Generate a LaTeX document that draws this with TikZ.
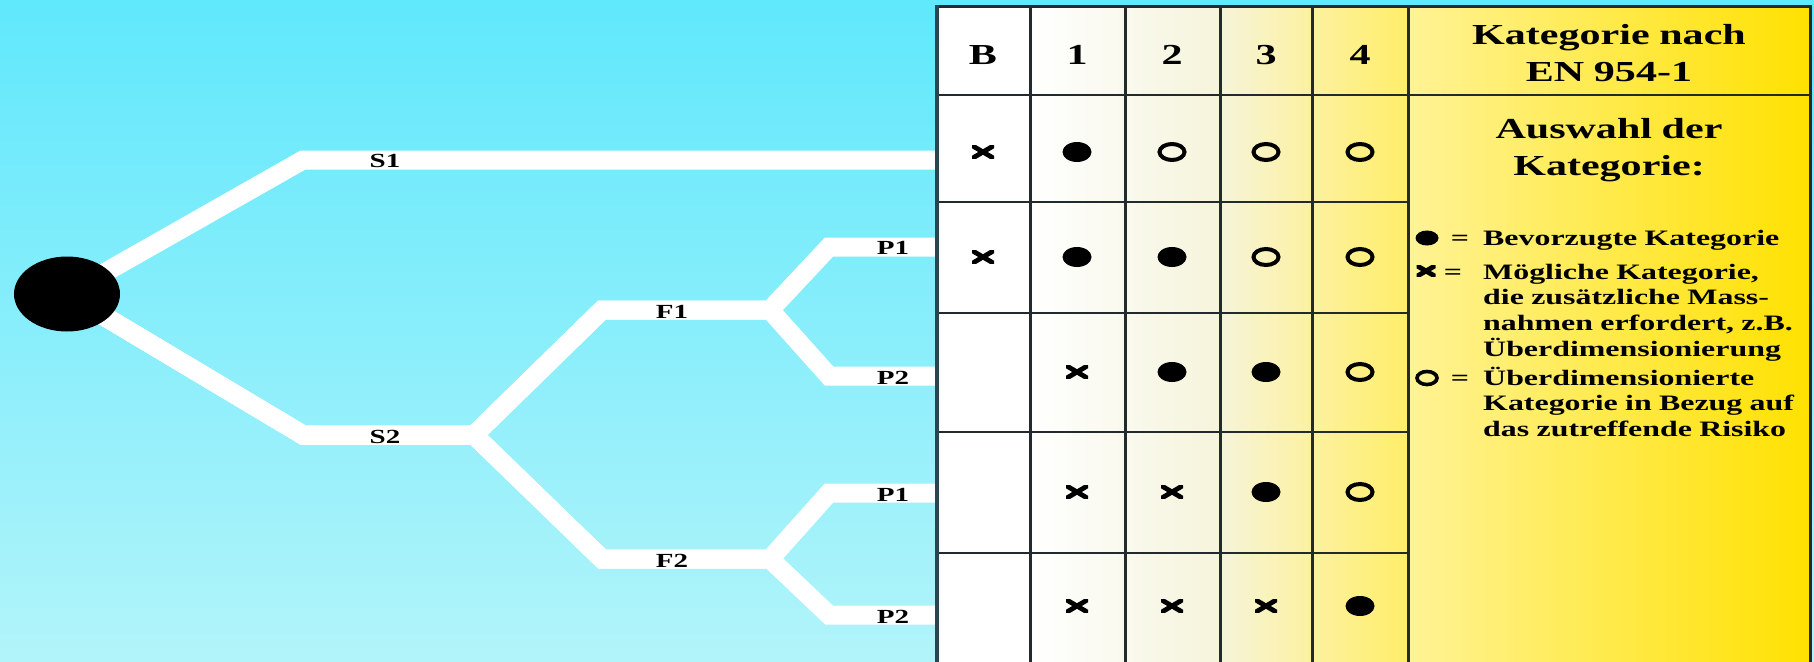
\documentclass[tikz,border=0pt]{standalone}
\usepackage{fontspec}
\setmainfont{Liberation Serif}[FakeStretch=1.45]
\usepackage{tikz}
\usetikzlibrary{shapes.geometric}
\definecolor{skytop}{RGB}{96,232,252}
\definecolor{skybottom}{RGB}{178,244,250}
\definecolor{gridline}{RGB}{35,42,45}
\definecolor{tableedge}{RGB}{40,70,80}
\definecolor{cellcream}{RGB}{249,249,238}
\definecolor{cellcream2}{RGB}{246,244,218}
\definecolor{cellyellow}{RGB}{252,241,160}
\definecolor{cellyellow2}{RGB}{255,238,105}
\definecolor{keyyellow}{RGB}{255,243,150}
\definecolor{signalyellow}{RGB}{255,225,0}

\begin{document}
\begin{tikzpicture}[x=1pt, y=-1pt,
  branch/.style={draw=white, line width=19pt, line join=miter},
  pathlabel/.style={font=\fontsize{20}{24}\selectfont\bfseries, inner sep=0pt},
  headtext/.style={font=\fontsize{29}{37}\selectfont\bfseries, inner sep=0pt, align=center, anchor=base},
  legendtext/.style={font=\fontsize{22}{25.7}\selectfont\bfseries, inner sep=0pt, align=left, anchor=base west, text width=330pt},
  keyeq/.style={font=\fontsize{22}{26}\selectfont\bfseries, inner sep=0pt, anchor=base},
  fullmark/.style={ellipse, fill=black, minimum width=29pt, minimum height=20pt, inner sep=0pt},
  ringmark/.style={ellipse, draw=black, line width=4pt, minimum width=25pt, minimum height=16pt, inner sep=0pt},
  crossmark/.style={minimum width=22pt, minimum height=13pt, inner sep=0pt,
    path picture={\draw[line width=4.8pt] (path picture bounding box.south west) -- (path picture bounding box.north east)
      (path picture bounding box.north west) -- (path picture bounding box.south east);}},
  gridrule/.style={draw=gridline, line width=2pt}]
\useasboundingbox (0,0) rectangle (1814,661);
\shade[top color=skytop, bottom color=skybottom] (0,0) rectangle (1814,661);

% risk graph
\coordinate (rootc) at (67,294);
\coordinate (s1bend) at (303,160); \coordinate (s1end) at (940,160);
\coordinate (s2bend) at (303,435); \coordinate (s2fork) at (474,435);
\coordinate (f1bend) at (602,310); \coordinate (f1fork) at (770,310);
\coordinate (f2bend) at (602,559); \coordinate (f2fork) at (770,559);
\coordinate (p11bend) at (829,247); \coordinate (p11end) at (940,247);
\coordinate (p12bend) at (829,376); \coordinate (p12end) at (940,376);
\coordinate (p21bend) at (829,493); \coordinate (p21end) at (940,493);
\coordinate (p22bend) at (829,615); \coordinate (p22end) at (940,615);
\draw[branch] (rootc) -- (s1bend) -- (s1end);
\draw[branch] (rootc) -- (s2bend) -- (s2fork) -- (f1bend) -- (f1fork) -- (p11bend) -- (p11end);
\draw[branch] (rootc) -- (s2bend) -- (s2fork) -- (f1bend) -- (f1fork) -- (p12bend) -- (p12end);
\draw[branch] (rootc) -- (s2bend) -- (s2fork) -- (f2bend) -- (f2fork) -- (p21bend) -- (p21end);
\draw[branch] (rootc) -- (s2bend) -- (s2fork) -- (f2bend) -- (f2fork) -- (p22bend) -- (p22end);
\node[ellipse, fill=black, minimum width=106pt, minimum height=75pt, inner sep=0pt] (root) at (rootc) {};
\node[pathlabel] (s1) at (385,161) {S1};
\node[pathlabel] (s2) at (385,437) {S2};
\node[pathlabel] (f1) at (672,312) {F1};
\node[pathlabel] (f2) at (672,561) {F2};
\node[pathlabel] (p11) at (893,248) {P1};
\node[pathlabel] (p12) at (893,378) {P2};
\node[pathlabel] (p21) at (893,495) {P1};
\node[pathlabel] (p22) at (893,617) {P2};

% category table
\fill[white] (937,7) rectangle (1030,670);
\shade[left color=white, right color=cellcream] (1030,7) rectangle (1125,670);
\shade[left color=cellcream, right color=cellcream2] (1125,7) rectangle (1220,670);
\shade[left color=cellcream2, right color=cellyellow] (1220,7) rectangle (1312,670);
\shade[left color=cellyellow, right color=cellyellow2] (1312,7) rectangle (1408,670);
\shade[left color=keyyellow, right color=signalyellow] (1408,7) rectangle (1810,670);
\draw[gridrule] (937,95) -- (1810,95);
\draw[gridrule] (937,202) -- (1408,202); \draw[gridrule] (937,313) -- (1408,313);
\draw[gridrule] (937,432) -- (1408,432); \draw[gridrule] (937,553) -- (1408,553);
\draw[gridrule, line width=3pt] (1030,7) -- (1030,670); \draw[gridrule, line width=3pt] (1125,7) -- (1125,670);
\draw[gridrule, line width=3pt] (1220,7) -- (1220,670); \draw[gridrule, line width=3pt] (1312,7) -- (1312,670);
\draw[gridrule, line width=3pt] (1408,7) -- (1408,670); \draw[gridrule, line width=3pt] (1810,7) -- (1810,670);
\draw[gridrule, line width=3pt] (935,7) -- (1812,7);
\draw[draw=tableedge, line width=4pt] (937,5) -- (937,670);

\node[headtext] (colB) at (983,65) {B};
\node[headtext] (col1) at (1077,65) {1};
\node[headtext] (col2) at (1172,65) {2};
\node[headtext] (col3) at (1266,65) {3};
\node[headtext] (col4) at (1360,65) {4};
\node[headtext, text width=390pt] (norm) at (1609,45) {Kategorie nach\\EN 954-1};
\node[headtext, text width=390pt] (choice) at (1609,138) {Auswahl der\\Kategorie:};

\node[crossmark] (r1cB) at (983,152) {}; \node[fullmark] (r1c1) at (1077,152) {};
\node[ringmark] (r1c2) at (1172,152) {}; \node[ringmark] (r1c3) at (1266,152) {};
\node[ringmark] (r1c4) at (1360,152) {};
\node[crossmark] (r2cB) at (983,257) {}; \node[fullmark] (r2c1) at (1077,257) {};
\node[fullmark] (r2c2) at (1172,257) {}; \node[ringmark] (r2c3) at (1266,257) {};
\node[ringmark] (r2c4) at (1360,257) {};
\node[crossmark] (r3c1) at (1077,372) {}; \node[fullmark] (r3c2) at (1172,372) {};
\node[fullmark] (r3c3) at (1266,372) {}; \node[ringmark] (r3c4) at (1360,372) {};
\node[crossmark] (r4c1) at (1077,492) {}; \node[crossmark] (r4c2) at (1172,492) {};
\node[fullmark] (r4c3) at (1266,492) {}; \node[ringmark] (r4c4) at (1360,492) {};
\node[crossmark] (r5c1) at (1077,606) {}; \node[crossmark] (r5c2) at (1172,606) {};
\node[crossmark] (r5c3) at (1266,606) {}; \node[fullmark] (r5c4) at (1360,606) {};

% legend
\node[fullmark, minimum width=23pt, minimum height=15pt] (keyfull) at (1427,238) {};
\node[keyeq] (eqfull) at (1460,245) {=};
\node[legendtext] (txtfull) at (1483,245) {Bevorzugte Kategorie};
\node[crossmark, minimum width=19pt, minimum height=11pt] (keycross) at (1426,271) {};
\node[keyeq] (eqcross) at (1453,279) {=};
\node[legendtext] (txtcross) at (1483,279) {Mögliche Kategorie,\\die zusätzliche Mass-\\nahmen erfordert, z.B.\\Überdimensionierung};
\node[ringmark, minimum width=20pt, minimum height=13pt, line width=3.6pt] (keyring) at (1427,378) {};
\node[keyeq] (eqring) at (1460,385) {=};
\node[legendtext] (txtring) at (1483,385) {Überdimensionierte\\Kategorie in Bezug auf\\das zutreffende Risiko};
\end{tikzpicture}
\end{document}
